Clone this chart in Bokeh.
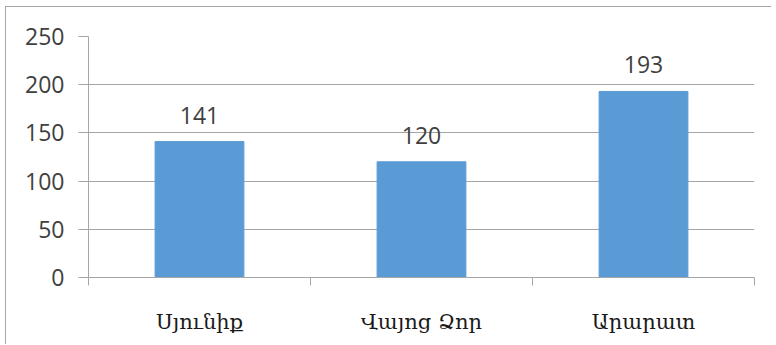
from bokeh.plotting import figure
from bokeh.models import ColumnDataSource, FixedTicker, Range1d, LabelSet
from bokeh.core.properties import value
from bokeh.embed import file_html
from bokeh.resources import INLINE

categories = ["Սյունիք", "Վայոց Ձոր", "Արարատ"]
values = [141, 120, 193]
y_ticks = [0, 50, 100, 150, 200, 250]

xs = [i + 0.5 for i in range(len(categories))]
src = ColumnDataSource(dict(x=xs, top=values, label=[str(v) for v in values]))

p = figure(width=766, height=338, output_backend="svg", toolbar_location=None,
           x_range=Range1d(0, len(categories)), y_range=Range1d(0, 250),
           min_border_left=82, min_border_right=18, min_border_top=29, min_border_bottom=68)
p.styles = {"margin-left": "5px", "margin-top": "6px",
            "border-left": "1px solid #a6a6a6", "border-top": "1px solid #a6a6a6"}
p.outline_line_color = None

p.vbar(x="x", top="top", width=0.4, source=src, color="#5b9bd5")

labels = LabelSet(x="x", y="top", text="label", source=src, text_align="center",
                  text_baseline="bottom", y_offset=18, text_font_size="23px",
                  text_color="#404040", text_font=value("Open Sans"))
p.add_layout(labels)

# x axis
xa = p.xaxis[0]
xa.ticker = FixedTicker(ticks=xs, minor_ticks=list(range(len(categories) + 1)))
xa.major_label_overrides = {x: c for x, c in zip(xs, categories)}
xa.major_tick_out = 0
xa.major_tick_in = 0
xa.minor_tick_out = 8
xa.minor_tick_in = 0
xa.minor_tick_line_color = "#a6a6a6"
xa.axis_line_color = "#a6a6a6"
xa.major_label_text_font = "DejaVu Serif"
xa.major_label_text_font_size = "21px"
xa.major_label_text_color = "#1a1a1a"
xa.major_label_standoff = 24

# y axis
ya = p.yaxis[0]
ya.ticker = FixedTicker(ticks=y_ticks)
ya.major_tick_out = 10
ya.major_tick_in = 0
ya.minor_tick_line_color = None
ya.major_tick_line_color = "#a6a6a6"
ya.axis_line_color = "#a6a6a6"
ya.major_label_text_font = "Open Sans"
ya.major_label_text_font_size = "23px"
ya.major_label_text_color = "#404040"
ya.major_label_standoff = 14

p.xgrid.grid_line_color = None
p.ygrid.ticker = FixedTicker(ticks=y_ticks)
p.ygrid.grid_line_color = "#a6a6a6"

open("out.html", "w").write(file_html(p, INLINE))
